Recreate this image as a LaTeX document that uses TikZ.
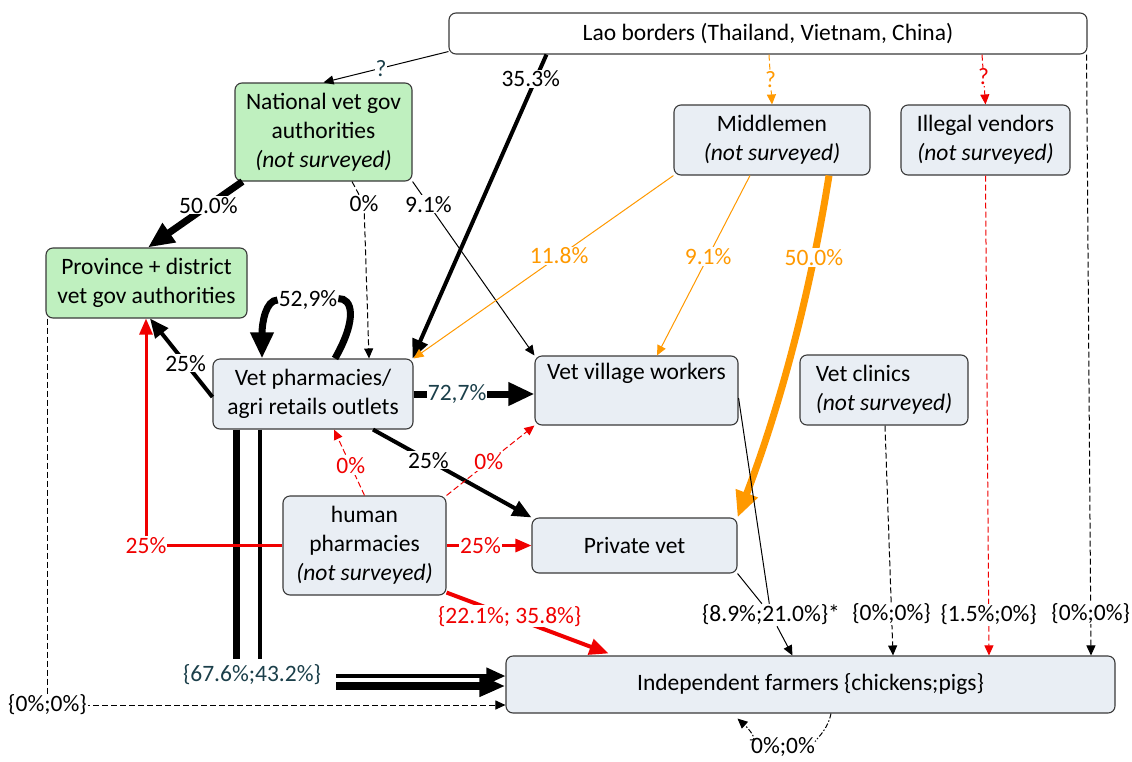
\documentclass[tikz,border=0pt]{standalone}
\usepackage{fontspec}
\setmainfont{Carlito}
\usetikzlibrary{arrows.meta,calc}
\definecolor{boxfill}{HTML}{E9EEF4}
\definecolor{govfill}{HTML}{BFF0BF}
\definecolor{boxline}{HTML}{3A3A3A}
\definecolor{labteal}{HTML}{1B3F4A}
\definecolor{orng}{HTML}{FF9900}
\definecolor{rd}{RGB}{240,0,0}
\begin{document}
\begin{tikzpicture}[x=1pt,y=-1pt,
  every node/.style={font=\fontsize{23.5}{29}\selectfont},
  box/.style={draw=boxline, line width=1.1pt, rounded corners=7pt, fill=boxfill, align=center, inner sep=0pt},
  gov/.style={box, fill=govfill},
  lbl/.style={fill=white, inner sep=1pt},
  ta/.style={-{Triangle[length=10pt,width=9pt]}, line width=1pt},
  ra/.style={-{Triangle[length=16pt,width=13pt]}, line width=3pt},
  ma/.style={-{Triangle[length=19pt,width=16pt]}, line width=4pt},
  ka/.style={-{Triangle[length=26pt,width=22pt]}, line width=7pt},
  lds/.style={dash pattern=on 6pt off 3pt},
  dds/.style={dash pattern=on 5pt off 2pt on 1.5pt off 2pt},
]
\useasboundingbox[fill=white] (0,0) rectangle (1132,761);

% boxes
\node[box, fill=white, minimum width=638pt, minimum height=41pt] (lao) at (768,33.5) {Lao borders (Thailand, Vietnam, China)};
\node[gov, minimum width=177pt, minimum height=98pt] (nat) at (323.5,132) {National vet gov\\authorities\\\textit{(not surveyed)}};
\node[gov, minimum width=201pt, minimum height=70pt] (prov) at (146.5,283) {Province + district\\vet gov authorities};
\node[box, minimum width=200pt, minimum height=70pt] (vp) at (313,394) {Vet pharmacies/\\agri retails outlets};
\node[box, minimum width=203pt, minimum height=69pt] (vvw) at (636.5,390.5) {Vet village workers\\\strut};
\node[box, minimum width=168pt, minimum height=70pt, align=left] (vc) at (884,390) {Vet clinics\\\textit{(not surveyed)}};
\node[box, minimum width=196pt, minimum height=70pt] (mid) at (772,140) {Middlemen\\\textit{(not surveyed)}};
\node[box, minimum width=169pt, minimum height=70pt] (ill) at (985.5,140) {Illegal vendors\\\textit{(not surveyed)}};
\node[box, minimum width=163pt, minimum height=99pt] (hp) at (364.5,545.5) {human\\pharmacies\\\textit{(not surveyed)}};
\node[box, minimum width=205pt, minimum height=55pt] (pv) at (634.5,545.5) {Private vet};
\node[box, minimum width=609pt, minimum height=57pt] (farm) at (810.5,684.5) {Independent farmers \{chickens;pigs\}};

% free-standing labels that connectors pass through
\node[lbl] (l7) at (364,204) {0\%};
\node[lbl] (l12) at (308,300) {52,9\%};
\node[lbl] (l21) at (771,615) {\{8.9\%;21.0\%\}*};
\node[lbl] (l27) at (783,747) {0\%;0\%};

% connectors from the borders
\draw[ta] ([yshift=3pt]lao.south west) -- node[lbl, pos=0.54, text=labteal]{?} (nat.north);
\draw[ma] ([xshift=98pt]lao.south west) -- node[lbl, pos=0.08, xshift=-5pt]{35.3\%} ([xshift=-1pt]vp.north east);
\draw[orng, ta, lds] ([xshift=1pt]lao.south) -- node[lbl]{?} (mid.north);
\draw[rd, ta, lds] ([xshift=214pt]lao.south) -- node[lbl, pos=0.45]{?} (ill.north);
\draw[ta, lds] ([xshift=-1pt]lao.south east) -- node[lbl, pos=0.93]{\{0\%;0\%\}} ([xshift=280.5pt]farm.north);

% national authorities
\draw[ka] ([xshift=8pt]nat.south west) -- node[lbl, pos=0.36]{50.0\%} ([xshift=1.5pt]prov.north);
\draw[ta, lds] ([xshift=28.5pt]nat.south) -- (l7) -- ([xshift=56pt]vp.north);
\draw[ta] (nat.south east) -- node[lbl, pos=0.13]{9.1\%} (vvw.north west);

% middlemen
\draw[orng, ta] (mid.south west) -- node[lbl, pos=0.44]{11.8\%} (vp.north east);
\draw[orng, ta] ([xshift=-22pt]mid.south) -- node[lbl, pos=0.45]{9.1\%} ([xshift=20.5pt]vvw.north);
\draw[orng, ka] ([xshift=57pt]mid.south) .. controls (811,289) and (781,404) .. node[lbl, pos=0.24]{50.0\%} (pv.north east);

% vet pharmacies
\draw[ka] ([xshift=22pt]vp.north) .. controls (358,318) and (352,298) .. (l12) .. controls (266,300) and (262,322) .. ([xshift=-51pt]vp.north);
\draw[ma] ([yshift=-3pt]vp.west) -- node[lbl, pos=0.43]{25\%} ([xshift=3.5pt]prov.south);
\draw[ka] (vp.east) -- node[lbl, pos=0.36, text=labteal]{72,7\%} (vp.east -| vvw.west);
\draw[ma] ([xshift=60pt]vp.south) -- node[lbl, pos=0.35]{25\%} (pv.north west);
\draw[-{Triangle[length=26pt,width=20pt]}, line width=7.5pt] ([xshift=24pt]vp.south west) |- ([yshift=-1.5pt]farm.west);
\draw[ma] ([xshift=48pt]vp.south west) |- ([yshift=8.5pt]farm.west);
\node[lbl, text=labteal, minimum height=32pt] (l25) at (259,675) {\{67.6\%;43.2\%\}\kern14pt};

% human pharmacies
\draw[rd, ta, lds] (hp.north) -- node[lbl, pos=0.45]{0\%} ([xshift=21pt]vp.south);
\draw[rd, ta, lds] (hp.north east) -- node[lbl, pos=0.48]{0\%} (vvw.south west);
\draw[rd, ra] (hp.west) -| node[lbl, pos=0.5]{25\%} ([xshift=-0.5pt]prov.south);
\draw[rd, ra] (hp.east) -- node[lbl, pos=0.4]{25\%} (pv.west);
\draw[rd, ma] ([yshift=3pt]hp.south east) -- node[lbl, pos=0.39]{\{22.1\%; 35.8\%\}} ([xshift=103pt,yshift=2pt]farm.north west);

% to the farmers
\draw[line width=1pt] (pv.south east) -- (l21);
\draw[line width=1pt] ([yshift=-7.5pt]vvw.east) -- (l21);
\draw[ta] (l21) -- ([xshift=287pt]farm.north west);
\draw[ta, lds] ([xshift=1pt]vc.south) -- node[lbl, pos=0.82]{\{0\%;0\%\}} ([xshift=82.5pt]farm.north);
\draw[rd, ta, lds] (ill.south) -- node[lbl, pos=0.915, text=black]{\{1.5\%;0\%\}} ([xshift=178.5pt]farm.north);
\draw[ta, lds] ([xshift=2pt]prov.south west) |- node[lbl, pos=0.5]{\{0\%;0\%\}} ([yshift=-20.5pt]farm.west);
\draw[ta, dds] ([xshift=20.5pt]farm.south) .. controls (827,733) and (812,742) .. (l27) .. controls (760,742) and (748,728) .. ([xshift=-73pt,yshift=-5pt]farm.south);
\end{tikzpicture}
\end{document}
